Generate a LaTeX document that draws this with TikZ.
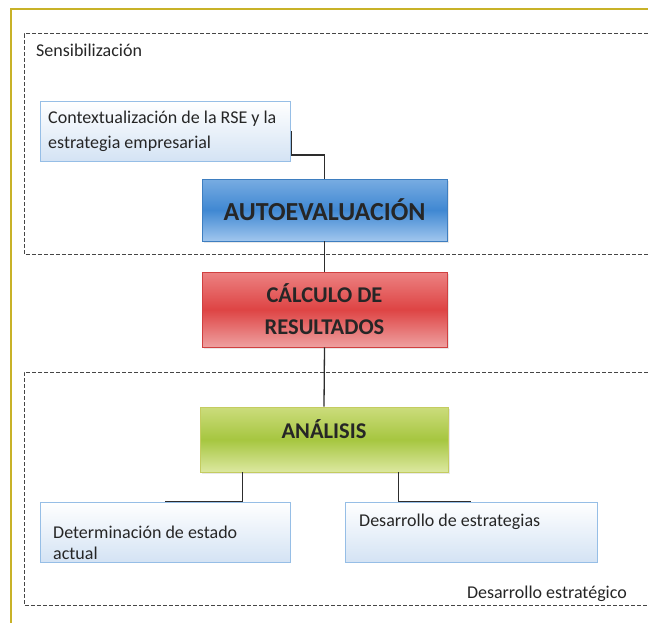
\documentclass[tikz,border=0pt]{standalone}
\usepackage{fontspec}
\setmainfont{Carlito}
\usetikzlibrary{calc,shadows}
\definecolor{frameyellow}{RGB}{200,178,40}
\definecolor{dashgray}{RGB}{70,70,70}
\definecolor{linegray}{RGB}{45,45,45}
\definecolor{paleblue}{RGB}{212,227,244}
\definecolor{paleedge}{RGB}{150,190,230}
\tikzset{
  x=1pt, y=-1pt,
  zone/.style={draw=dashgray, line width=1pt, dash pattern=on 4pt off 2pt},
  softbox/.style={draw=paleedge, line width=0.8pt, top color=white, bottom color=paleblue,
    minimum width=250pt, minimum height=60pt, inner sep=0pt},
  softtext/.style={font=\fontsize{18}{25}\selectfont, text=black!85, align=left, anchor=base west, inner sep=0pt},
  bigbox/.style={line width=0.8pt, minimum width=245pt, inner sep=0pt,
    drop shadow={opacity=0.18, shadow xshift=2pt, shadow yshift=-2pt}},
  bigtext/.style={font=\fontsize{22.5}{32}\selectfont\bfseries, text=black!85, align=center, inner sep=0pt},
  link/.style={draw=linegray, line width=1.3pt},
  zonelabel/.style={font=\fontsize{18}{20}\selectfont, text=black!85, inner sep=0pt}
}
\begin{document}
\begin{tikzpicture}
\useasboundingbox (0,0) rectangle (648,623);
\fill[white] (0,0) rectangle (648,623);
% outer frame
\draw[frameyellow, line width=1.5pt] (11,640) -- (11,9) -- (660,9);
% zones
\draw[zone] (660,34) -- (24,34) -- (24,254) -- (660,254);
\draw[zone] (660,372) -- (24,372) -- (24,605) -- (660,605);
\node[zonelabel, anchor=base west] (sens) at (36,57) {Sensibilización};
\node[zonelabel, anchor=base east] (desest) at (627,598) {Desarrollo estratégico};
% boxes
\node[softbox] (ctx) at (165,131) {};
\node[softtext] (ctxt) at (48,149) {\parbox[b]{240pt}{\fontsize{18}{25}\selectfont Contextualización de la RSE y la\\estrategia empresarial}};
\node[bigbox, draw={rgb,255:red,62;green,126;blue,192}, minimum height=62pt,
  top color={rgb,255:red,120;green,172;blue,226}, bottom color={rgb,255:red,160;green,198;blue,238},
  middle color={rgb,255:red,64;green,136;blue,210},
  font=\fontsize{26}{30}\selectfont\bfseries, text=black!85] (auto) at (324.5,210) {AUTOEVALUACIÓN};
\node[bigbox, draw={rgb,255:red,208;green,64;blue,64}, minimum height=75pt,
  top color={rgb,255:red,236;green,130;blue,130}, bottom color={rgb,255:red,238;green,160;blue,160},
  middle color={rgb,255:red,222;green,68;blue,68}] (calc) at (324.5,309.5) {};
\node[bigtext] (calct) at (324.5,309.5) {CÁLCULO DE\\RESULTADOS};
\node[bigbox, minimum width=248pt, draw={rgb,255:red,196;green,204;blue,96}, minimum height=65pt,
  top color={rgb,255:red,204;green,220;blue,124}, bottom color={rgb,255:red,220;green,232;blue,160},
  middle color={rgb,255:red,166;green,198;blue,64}] (anal) at (324,439.5) {};
\node[bigtext] (analt) at (324,429) {ANÁLISIS};
\node[softbox] (det) at (165,532) {};
\node[softtext] (dett) at (53,559) {\parbox[b]{230pt}{\fontsize{18}{21}\selectfont Determinación de estado\\actual}};
\node[softbox, minimum width=252pt] (des) at (471,532) {};
\node[softtext] (dest) at (359,526) {Desarrollo de estrategias};
% connectors
\coordinate (ctxr) at ($(ctx.east)+(1,0)$);
\draw[link] (ctxr) -- ++(0,24) -| (auto.north);
\draw[link] (auto.south) -- (calc.north);
\draw[link] (calc.south) -- (anal.north);
\coordinate (anl) at ($(anal.south west)+(43,0)$);
\coordinate (anr) at ($(anal.south east)+(-50,0)$);
\draw[link] (anl) |- (det.north);
\draw[link] (anr) |- (des.north);
\end{tikzpicture}
\end{document}
